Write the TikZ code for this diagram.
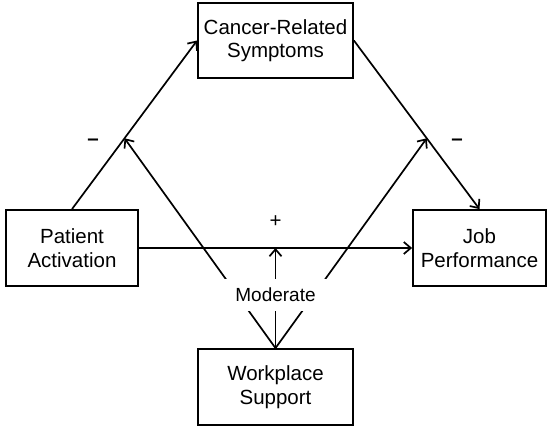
\documentclass[tikz,border=0pt]{standalone}
\usepackage{fontspec}
\setmainfont{Liberation Sans}
\usetikzlibrary{arrows.meta}
\begin{document}
\begin{tikzpicture}[x=1pt,y=-1pt,
  varbox/.style={draw,line width=1.8pt,rectangle,inner sep=0pt,align=center,
    font=\fontsize{20.5}{23.5}\selectfont},
  conn/.style={line width=1.7pt,-{Straight Barb[length=7pt,width=12pt,line width=1.7pt]}},
  sign/.style={font=\fontsize{20.5}{23.5}\selectfont,inner sep=0pt},
  modlabel/.style={fill=white,inner sep=0pt,minimum width=108pt,minimum height=32pt,
    font=\fontsize{19}{22}\selectfont}]
\useasboundingbox (0,0) rectangle (550,430);
\node[varbox,minimum width=155pt,minimum height=75pt] (crs) at (275.5,40.5) {Cancer-Related\\Symptoms};
\node[varbox,minimum width=132pt,minimum height=76pt] (pa) at (72,248) {Patient\\Activation};
\node[varbox,minimum width=133pt,minimum height=76pt] (jp) at (479.5,248) {Job\\Performance};
\node[varbox,minimum width=155pt,minimum height=76pt] (ws) at (275.5,387) {Workplace\\Support};
\draw[conn] (pa.north) -- coordinate[pos=0.42] (ml) (crs.west);
\draw[conn] (crs.east) -- coordinate[pos=0.58] (mr) (jp.north);
\draw[conn] (pa.east) -- coordinate[pos=0.5] (mm) (jp.west);
\draw[conn] (ws.north) -- (ml);
\draw[conn] (ws.north) -- (mr);
\draw[conn] (ws.north) -- (mm);
\node[modlabel] (mod) at (275.5,295) {Moderate};
\node[sign,font=\fontsize{20.5}{23.5}\selectfont\bfseries] (s1) at (93,142) {–};
\node[sign,font=\fontsize{20.5}{23.5}\selectfont\bfseries] (s2) at (457,142) {–};
\node[sign] (s3) at (275.5,222) {+};
\end{tikzpicture}
\end{document}
